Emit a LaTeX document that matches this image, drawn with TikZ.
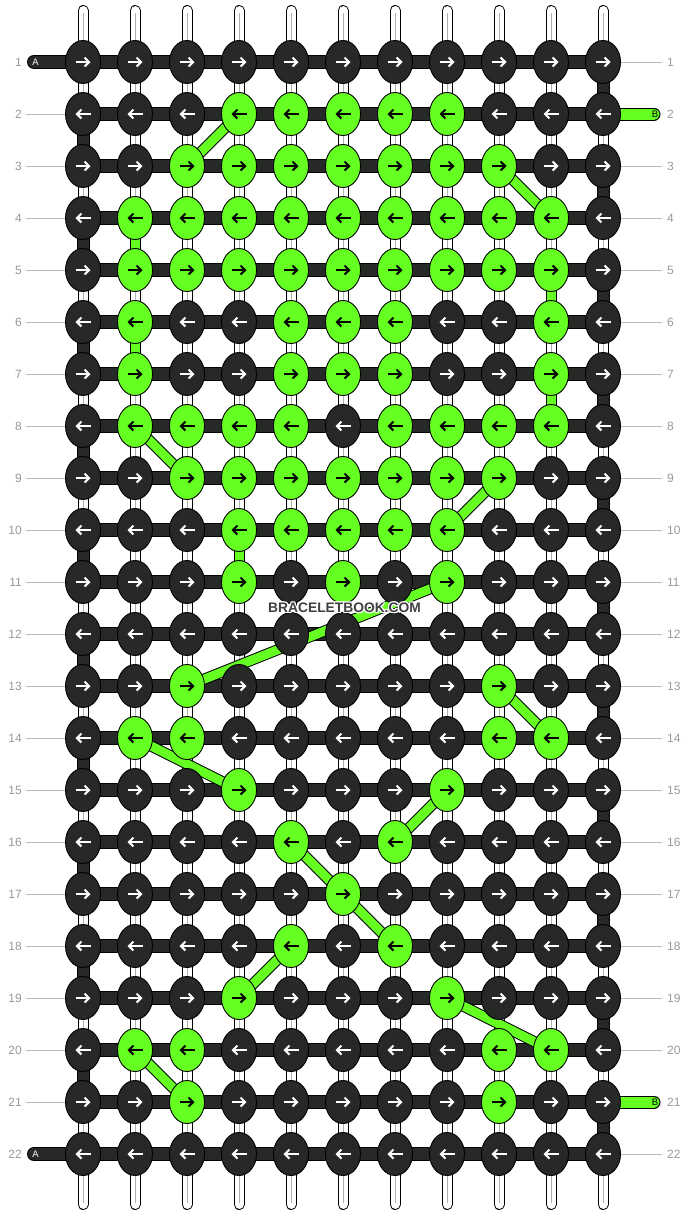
\documentclass[tikz,border=0pt]{standalone}
\usepackage{fontspec}
\setmainfont{Liberation Sans}
\usetikzlibrary{arrows.meta,shapes.geometric}
\definecolor{knotdark}{HTML}{262926}
\definecolor{knotgreen}{HTML}{66FF22}
\definecolor{labelgray}{HTML}{999999}
\definecolor{guidegray}{HTML}{BBBBBB}
\definecolor{tubegray}{HTML}{B0B0B0}
\definecolor{wmgray}{HTML}{404040}
\pgfdeclarelayer{paper}
\pgfdeclarelayer{tubes}
\pgfdeclarelayer{bars}
\pgfsetlayers{paper,tubes,bars,main}
\begin{document}
\begin{tikzpicture}[x=1pt,y=-1pt,
  knot/.style={ellipse, minimum width=35pt, minimum height=43pt, inner sep=0pt, draw=black, line width=0.9pt},
  arr/.style={line width=2.1pt, -{Straight Barb[length=4.5pt,width=9pt]}},
  tubeout/.style={line width=11pt, black, line cap=round},
  tubein/.style={line width=9pt, white, line cap=round},
  tubemid/.style={line width=0.8pt, tubegray},
  barout/.style={line width=14pt, black},
  barin/.style={line width=12pt, knotdark},
  edgeout/.style={line width=13pt, black},
  edgein/.style={line width=11pt, knotdark},
  gout/.style={line width=11pt, black},
  gin/.style={line width=9pt, knotgreen},
  guide/.style={line width=1pt, guidegray},
  rowlbl/.style={font=\fontsize{12}{14}\selectfont, text=labelgray, inner sep=0pt},
  stublbl/.style={font=\fontsize{9.5}{11}\selectfont, inner sep=0pt},
  wm/.style={font=\bfseries\fontsize{13.8}{16}\selectfont, inner sep=0pt}
]
\useasboundingbox (0,0) rectangle (688,1216);
\begin{pgfonlayer}{paper}
\fill[white] (0,0) rectangle (688,1216);
\end{pgfonlayer}

% knots
\foreach \r/\pat in {
  1/{0,0,0,0,0,0,0,0,0,0,0},
  2/{0,0,0,1,1,1,1,1,0,0,0},
  3/{0,0,1,1,1,1,1,1,1,0,0},
  4/{0,1,1,1,1,1,1,1,1,1,0},
  5/{0,1,1,1,1,1,1,1,1,1,0},
  6/{0,1,0,0,1,1,1,0,0,1,0},
  7/{0,1,0,0,1,1,1,0,0,1,0},
  8/{0,1,1,1,1,0,1,1,1,1,0},
  9/{0,0,1,1,1,1,1,1,1,0,0},
  10/{0,0,0,1,1,1,1,1,0,0,0},
  11/{0,0,0,1,0,1,0,1,0,0,0},
  12/{0,0,0,0,0,0,0,0,0,0,0},
  13/{0,0,1,0,0,0,0,0,1,0,0},
  14/{0,1,1,0,0,0,0,0,1,1,0},
  15/{0,0,0,1,0,0,0,1,0,0,0},
  16/{0,0,0,0,1,0,1,0,0,0,0},
  17/{0,0,0,0,0,1,0,0,0,0,0},
  18/{0,0,0,0,1,0,1,0,0,0,0},
  19/{0,0,0,1,0,0,0,1,0,0,0},
  20/{0,1,1,0,0,0,0,0,1,1,0},
  21/{0,0,1,0,0,0,0,0,1,0,0},
  22/{0,0,0,0,0,0,0,0,0,0,0}}{
  \pgfmathsetmacro\yy{62+52*(\r-1)}
  \foreach \g [count=\c] in \pat {
    \pgfmathsetmacro\xx{83+52*(\c-1)}
    \ifnum\g=1 \def\kf{knotgreen}\def\af{black}\else\def\kf{knotdark}\def\af{white}\fi
    \node[knot, fill=\kf] (k-\r-\c) at (\xx,\yy) {};
    \ifodd\r
      \draw[arr, \af] ([xshift=-7.5pt]k-\r-\c.center) -- ([xshift=7.5pt]k-\r-\c.center);
    \else
      \draw[arr, \af] ([xshift=7.5pt]k-\r-\c.center) -- ([xshift=-7.5pt]k-\r-\c.center);
    \fi
  }
  \node[rowlbl, anchor=east] (L-\r) at (22,\yy) {\r};
  \node[rowlbl, anchor=west] (R-\r) at (667,\yy) {\r};
}

% tubes and guide lines
\begin{pgfonlayer}{tubes}
\foreach \c in {1,...,11}{
  \pgfmathsetmacro\xx{83+52*(\c-1)}
  \coordinate (tt-\c) at (\xx,10.5);
  \coordinate (tb-\c) at (\xx,1204.5);
  \draw[tubeout] (tt-\c) -- (tb-\c);
  \draw[tubein] (tt-\c) -- (tb-\c);
  \draw[tubemid] ([yshift=-2pt]tt-\c) -- ([yshift=2pt]tb-\c);
}
\foreach \r in {2,...,21}{
  \draw[guide] ([xshift=4pt]L-\r.east) -- (k-\r-1.west);
}
\foreach \r in {1,3,4,5,6,7,8,9,10,11,12,13,14,15,16,17,18,19,20,22}{
  \draw[guide] (k-\r-11.east) -- ([xshift=-5pt]R-\r.west);
}
\end{pgfonlayer}

% bars, edges, stubs, green links
\begin{pgfonlayer}{bars}
\foreach \r in {1,...,22}{
  \draw[barout] (k-\r-1.center) -- (k-\r-11.center);
  \draw[barin] (k-\r-1.center) -- (k-\r-11.center);
}
\foreach \r [evaluate=\r as \rn using int(\r+1)] in {2,4,...,20}{
  \draw[edgeout] (k-\r-1.center) -- (k-\rn-1.center);
  \draw[edgein] (k-\r-1.center) -- (k-\rn-1.center);
}
\foreach \r [evaluate=\r as \rn using int(\r+1)] in {1,3,...,21}{
  \draw[edgeout] (k-\r-11.center) -- (k-\rn-11.center);
  \draw[edgein] (k-\r-11.center) -- (k-\rn-11.center);
}
% A stubs
\coordinate (A-1) at (34,62);
\coordinate (A-22) at (34,1154);
\foreach \r in {1,22}{
  \draw[barout, line cap=round] (A-\r) -- (k-\r-1.center);
  \draw[barin, line cap=round] (A-\r) -- (k-\r-1.center);
}
% B stubs
\coordinate (B-2) at (654,114);
\coordinate (B-21) at (654,1102);
\foreach \r in {2,21}{
  \draw[line width=13pt, black, line cap=round] (k-\r-11.center) -- (B-\r);
  \draw[line width=11pt, knotgreen, line cap=round] (k-\r-11.center) -- (B-\r);
}
% green links
\foreach \ra/\ca/\rb/\cb in {2/4/3/3, 3/9/4/10, 4/2/5/2, 6/2/7/2, 5/10/6/10, 7/10/8/10,
  8/2/9/3, 9/9/10/8, 10/4/11/4, 11/8/13/3, 13/9/14/10, 14/2/15/4, 15/8/16/7,
  16/5/17/6, 17/6/18/7, 18/5/19/4, 19/8/20/10, 20/2/21/3}{
  \draw[gout] (k-\ra-\ca.center) -- (k-\rb-\cb.center);
  \draw[gin] (k-\ra-\ca.center) -- (k-\rb-\cb.center);
}
\end{pgfonlayer}

% stub labels
\node[stublbl, text=white] (Alab-1) at (35.5,62) {A};
\node[stublbl, text=white] (Alab-22) at (35.5,1154) {A};
\node[stublbl, text=black] (Blab-2) at (655,114) {B};
\node[stublbl, text=black] (Blab-21) at (655,1102) {B};

% watermark
\foreach \dx/\dy [count=\i] in {-1/0,1/0,0/-1,0/1,-1/-1,1/1,-1/1,1/-1}{
  \node[wm, text=white] (wmh-\i) at (344.5+\dx,607.5+\dy) {BRACELETBOOK.COM};
}
\node[wm, text=wmgray] (wm) at (344.5,607.5) {BRACELETBOOK.COM};
\end{tikzpicture}
\end{document}
